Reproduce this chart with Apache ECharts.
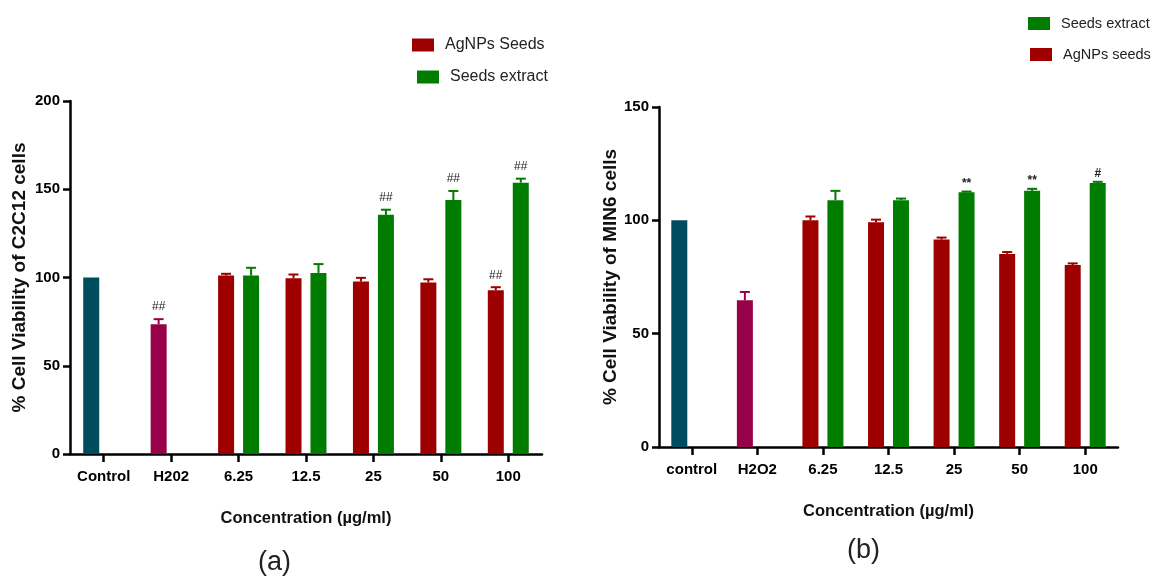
<!DOCTYPE html>
<html><head><meta charset="utf-8">
<script src="https://cdn.jsdelivr.net/npm/echarts@6/dist/echarts.min.js"></script>
<style>html,body{margin:0;padding:0;background:#fff}#c{width:1158px;height:576px}</style>
</head><body><div id="c"></div>
<script>
// ---------- Panel (a): C2C12 ----------
const categoriesA = ['Control', 'H202', '6.25', '12.5', '25', '50', '100'];
const baseA = [100, 73.5];              // Control, H2O2 (left slot)
const baseErrA = [0, 2.9];
const agA = [null, null, 101.1, 99.6, 97.7, 97.2, 92.8];
const agErrA = [null, null, 1.0, 2.1, 2.1, 1.8, 1.7];
const exA = [null, null, 101.1, 102.6, 135.5, 143.9, 153.7];
const exErrA = [null, null, 4.4, 5.0, 2.9, 5.1, 2.3];
const leftMarksA = ['', '##', '', '', '', '', '##'];
const rightMarksA = ['', '', '', '', '##', '##', '##'];
const yMaxA = 200;

// ---------- Panel (b): MIN6 ----------
const categoriesB = ['control', 'H2O2', '6.25', '12.5', '25', '50', '100'];
const baseB = [100, 64.7];
const baseErrB = [0, 3.7];
const agB = [null, null, 100.0, 99.2, 91.5, 85.2, 80.3];
const agErrB = [null, null, 1.7, 1.1, 0.9, 0.8, 0.7];
const exB = [null, null, 108.9, 108.9, 112.4, 113.0, 116.5];
const exErrB = [null, null, 4.1, 0.7, 0.3, 0.9, 0.5];
const leftMarksB = ['', '', '', '', '', '', ''];
const rightMarksB = ['', '', '', '', '**', '**', '#'];
const yMaxB = 150;

const RED = '#9e0000', GREEN = '#007c00';
const baseColors = ['#004c5f', '#99004a'];
const BAR_W = 16, SLOT_DX = 12.5;

function slotData(base, vals) {
  return vals.map((v, i) => i < base.length ? { value: base[i], itemStyle: { color: baseColors[i] } } : (v == null ? '-' : v));
}
function errData(base, baseErr, vals, errs, color) {
  const out = [];
  vals.forEach((v, i) => {
    if (i < base.length) {
      out.push({ value: [i, base[i], base[i] + baseErr[i]], itemStyle: { color: baseColors[i] } });
    } else if (v != null) {
      out.push({ value: [i, v, v + errs[i]], itemStyle: { color: color } });
    }
  });
  return out;
}
function errRender(marks, dx, markGap, markFont) {
  return function (params, api) {
    const i = api.value(0);
    const p0 = api.coord([i, api.value(1)]);
    const p1 = api.coord([i, api.value(2)]);
    const x = p0[0] + dx;
    const color = api.visual('color');
    const children = [];
    if (api.value(2) > api.value(1)) {
      children.push({ type: 'line', shape: { x1: x, y1: p0[1], x2: x, y2: p1[1] }, style: { stroke: color, lineWidth: 2 } });
      children.push({ type: 'line', shape: { x1: x - 5, y1: p1[1], x2: x + 5, y2: p1[1] }, style: { stroke: color, lineWidth: 2 } });
    }
    const m = marks[i];
    if (m) children.push({ type: 'text', style: { text: m, x: x, y: p1[1] - markGap, align: 'center', verticalAlign: 'middle', fill: '#222', font: markFont } });
    return { type: 'group', children: children };
  };
}

const axisLineStyle = { lineStyle: { color: '#000', width: 2.5 } };
const tickFont = { color: '#000', fontFamily: 'Liberation Sans', fontWeight: 'bold', fontSize: 15 };

function xAxisCfg(cats, gridIndex) {
  return {
    type: 'category', gridIndex: gridIndex, data: cats,
    axisLine: axisLineStyle,
    axisTick: { show: true, alignWithLabel: true, length: 8, lineStyle: { color: '#000', width: 2.5 } },
    axisLabel: Object.assign({ margin: 15, interval: 0 }, tickFont),
    name: 'Concentration (\u00b5g/ml)', nameLocation: 'middle', nameGap: 56,
    nameTextStyle: { color: '#111', fontFamily: 'Liberation Sans', fontWeight: 'bold', fontSize: 16.5 },
    splitLine: { show: false }
  };
}
function yAxisCfg(max, name, gridIndex, gap) {
  return {
    type: 'value', gridIndex: gridIndex, min: 0, max: max, interval: 50,
    axisLine: Object.assign({ show: true }, axisLineStyle),
    axisTick: { show: true, length: 7, lineStyle: { color: '#000', width: 2.5 } },
    axisLabel: Object.assign({ margin: 10 }, tickFont),
    splitLine: { show: false },
    name: name, nameLocation: 'middle', nameRotate: 90, nameGap: gap,
    nameTextStyle: { color: '#111', fontFamily: 'Liberation Sans', fontWeight: 'bold', fontSize: 19 }
  };
}
function legendCfg(name, left, top, size) {
  return {
    data: [{ name: name, icon: 'rect' }], left: left, top: top, padding: 0, orient: 'vertical',
    itemWidth: 22, itemHeight: 13, selectedMode: false,
    textStyle: { color: '#222', fontFamily: 'Liberation Sans', fontSize: size, padding: [0, 0, 0, 6] }
  };
}

const chart = echarts.init(document.getElementById('c'), null, { renderer: 'canvas' });
chart.setOption({
  backgroundColor: '#fff',
  animation: false,
  grid: [
    { left: 70, top: 101, width: 472, height: 353, outerBoundsMode: 'none', containLabel: false },
    { left: 659, top: 107, width: 459, height: 340, outerBoundsMode: 'none', containLabel: false }
  ],
  xAxis: [xAxisCfg(categoriesA, 0), xAxisCfg(categoriesB, 1)],
  yAxis: [
    yAxisCfg(yMaxA, '% Cell Viability of C2C12 cells', 0, 41),
    yAxisCfg(yMaxB, '% Cell Viability of MIN6 cells', 1, 38)
  ],
  legend: [
    legendCfg('AgNPs Seeds', 412, 37, 16),
    legendCfg('Seeds extract', 417, 69, 16),
    legendCfg('Seeds extract', 1028, 16, 14.5),
    legendCfg('AgNPs seeds', 1030, 47, 14.5)
  ],
  series: [
    { name: 'AgNPs Seeds', type: 'bar', xAxisIndex: 0, yAxisIndex: 0, barWidth: BAR_W, barGap: '56%',
      itemStyle: { color: RED }, data: slotData(baseA, agA) },
    { name: 'Seeds extract', type: 'bar', xAxisIndex: 0, yAxisIndex: 0, barWidth: BAR_W, barGap: '56%',
      itemStyle: { color: GREEN }, data: exA.map(v => v == null ? '-' : v) },
    { type: 'custom', xAxisIndex: 0, yAxisIndex: 0, z: 5, renderItem: errRender(leftMarksA, -SLOT_DX, 12, '12px Liberation Sans'),
      data: errData(baseA, baseErrA, agA, agErrA, RED) },
    { type: 'custom', xAxisIndex: 0, yAxisIndex: 0, z: 5, renderItem: errRender(rightMarksA, SLOT_DX, 12, '12px Liberation Sans'),
      data: errData([], [], exA, exErrA, GREEN) },

    { name: 'AgNPs seeds', type: 'bar', xAxisIndex: 1, yAxisIndex: 1, barWidth: BAR_W, barGap: '56%',
      itemStyle: { color: RED }, data: slotData(baseB, agB) },
    { name: 'Seeds extract', type: 'bar', xAxisIndex: 1, yAxisIndex: 1, barWidth: BAR_W, barGap: '56%',
      itemStyle: { color: GREEN }, data: exB.map(v => v == null ? '-' : v) },
    { type: 'custom', xAxisIndex: 1, yAxisIndex: 1, z: 5, renderItem: errRender(leftMarksB, -SLOT_DX, 8, 'bold 12px Liberation Sans'),
      data: errData(baseB, baseErrB, agB, agErrB, RED) },
    { type: 'custom', xAxisIndex: 1, yAxisIndex: 1, z: 5, renderItem: errRender(rightMarksB, SLOT_DX, 8, 'bold 12px Liberation Sans'),
      data: errData([], [], exB, exErrB, GREEN) }
  ],
  graphic: [
    { type: 'text', left: 258, top: 549, style: { text: '(a)', fill: '#222', font: '27px Liberation Sans' } },
    { type: 'text', left: 847, top: 537, style: { text: '(b)', fill: '#222', font: '27px Liberation Sans' } }
  ]
});
</script></body></html>
